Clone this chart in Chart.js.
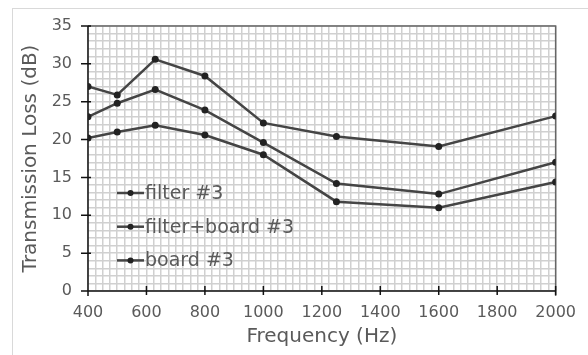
<!DOCTYPE html>
<html>
<head>
<meta charset="utf-8">
<script src="https://cdn.jsdelivr.net/npm/chart.js@4.4.1/dist/chart.umd.min.js"></script>
<style>
html, body { margin: 0; padding: 0; background: #fff; }
#wrap { position: relative; width: 588px; height: 355px; overflow: hidden; }
#frame { position: absolute; left: 12px; top: 8px; width: 620px; height: 400px; border-top: 1px solid #d9d9d9; border-left: 1px solid #d9d9d9; }
canvas { position: absolute; left: 0; top: 0; }
</style>
</head>
<body>
<div id="wrap">
    <div id="frame"></div>
    <canvas id="tl-chart" width="588" height="355"></canvas>
</div>
<script>
// 1/3 octave band centres (Hz)
const frequencies = [400, 500, 630, 800, 1000, 1250, 1600, 2000];
// transmission loss, dB
const filter3 = [23.0, 24.8, 26.6, 23.9, 19.6, 14.2, 12.8, 17.0];
const filterBoard3 = [27.0, 25.9, 30.6, 28.4, 22.2, 20.4, 19.1, 23.1];
const board3 = [20.2, 21.0, 21.9, 20.6, 18.0, 11.8, 11.0, 14.4];
const seriesLabels = ['filter #3', 'filter+board #3', 'board #3'];

const FONT = '"DejaVu Sans", sans-serif';
const TEXT = '#5a5a5a';

function toPoints(values) {
    return frequencies.map((f, i) => ({x: f, y: values[i]}));
}

function makeDataset(label, values) {
    return {
        label: label,
        data: toPoints(values),
        borderColor: '#454545',
        borderWidth: 2.5,
        pointRadius: 3.5,
        pointHoverRadius: 3.5,
        pointBackgroundColor: '#222',
        pointBorderWidth: 0,
        tension: 0
    };
}

// frame + axis lines and the crossing tick marks
const frameTicks = {
    id: 'frameTicks',
    beforeDatasetsDraw(chart) {
        const {ctx, chartArea: a, scales: {x, y}} = chart;
        ctx.save();
        ctx.lineWidth = 1.5;
        ctx.strokeStyle = '#666';
        ctx.beginPath();
        ctx.moveTo(a.left, a.top);
        ctx.lineTo(a.right, a.top);
        ctx.lineTo(a.right, a.bottom + 5);
        ctx.stroke();

        ctx.strokeStyle = '#111';
        ctx.beginPath();
        ctx.moveTo(a.left, a.top);
        ctx.lineTo(a.left, a.bottom + 5);
        ctx.moveTo(a.left, a.bottom);
        ctx.lineTo(a.right, a.bottom);
        x.ticks.forEach(t => {
            if (t.value % 200 === 0) {
                const px = x.getPixelForValue(t.value);
                ctx.moveTo(px, a.bottom - 5);
                ctx.lineTo(px, a.bottom + 4);
            }
        });
        y.ticks.forEach(t => {
            if (t.value % 5 === 0) {
                const py = y.getPixelForValue(t.value);
                ctx.moveTo(a.left - 7, py);
                ctx.lineTo(a.left + 3, py);
            }
        });
        ctx.stroke();
        ctx.restore();
    }
};

// legend sits inside the plot, stacked on the left
const sideLegend = {
    id: 'sideLegend',
    afterDatasetsDraw(chart) {
        const {ctx, chartArea: a} = chart;
        ctx.save();
        chart.data.datasets.forEach((ds, i) => {
            const ly = 193 + i * 33.7;
            const lx = a.left + 29;
            ctx.strokeStyle = ds.borderColor;
            ctx.lineWidth = 2.5;
            ctx.beginPath();
            ctx.moveTo(lx, ly);
            ctx.lineTo(lx + 27, ly);
            ctx.stroke();
            ctx.fillStyle = ds.pointBackgroundColor;
            ctx.beginPath();
            ctx.arc(lx + 13.5, ly, 3, 0, Math.PI * 2);
            ctx.fill();
            ctx.fillStyle = TEXT;
            ctx.font = '19px ' + FONT;
            ctx.textBaseline = 'middle';
            ctx.fillText(ds.label, lx + 28, ly + 1);
        });
        ctx.restore();
    }
};

const ctx = document.getElementById('tl-chart').getContext('2d');
new Chart(ctx, {
    type: 'line',
    data: {
        datasets: [
            makeDataset(seriesLabels[0], filter3),
            makeDataset(seriesLabels[1], filterBoard3),
            makeDataset(seriesLabels[2], board3)
        ]
    },
    plugins: [frameTicks, sideLegend],
    options: {
        responsive: false,
        animation: false,
        devicePixelRatio: 1,
        layout: {padding: {left: 0, top: 26, right: 29, bottom: 0}},
        plugins: {
            legend: {display: false},
            tooltip: {enabled: false}
        },
        scales: {
            x: {
                type: 'linear',
                min: 400,
                max: 2000,
                afterFit: (s) => { s.height = 64; },
                border: {display: false},
                grid: {color: '#d0d0d0', lineWidth: 1.5, drawTicks: false},
                ticks: {
                    stepSize: 25,
                    autoSkip: false,
                    maxRotation: 0,
                    padding: 12,
                    color: TEXT,
                    font: {family: FONT, size: 16},
                    callback: (v) => (v % 200 === 0 ? String(v) : '')
                },
                title: {
                    display: true,
                    text: 'Frequency (Hz)',
                    color: TEXT,
                    font: {family: FONT, size: 20},
                    padding: {top: 0, bottom: 6}
                }
            },
            y: {
                type: 'linear',
                min: 0,
                max: 35,
                afterFit: (s) => { s.width = 88; },
                border: {display: false},
                grid: {color: '#d0d0d0', lineWidth: 1.5, drawTicks: false},
                ticks: {
                    stepSize: 1,
                    autoSkip: false,
                    padding: 16,
                    color: TEXT,
                    font: {family: FONT, size: 16},
                    callback: (v) => (v % 5 === 0 ? String(v) : '')
                },
                title: {
                    display: true,
                    text: 'Transmission Loss (dB)',
                    color: TEXT,
                    font: {family: FONT, size: 20},
                    padding: {top: 19, bottom: 0}
                }
            }
        }
    }
});
</script>
</body>
</html>
